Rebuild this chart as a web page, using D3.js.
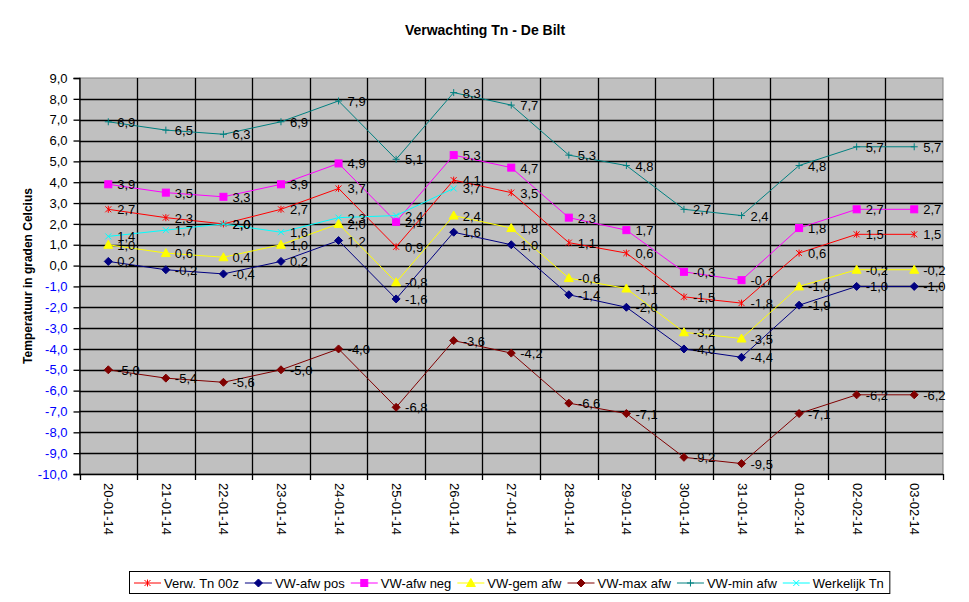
<!DOCTYPE html>
<html>
<head>
<meta charset="utf-8">
<script src="https://cdn.jsdelivr.net/npm/d3@7"></script>
<style>
  body { margin: 0; background: #fff; }
  svg { font-family: "Liberation Sans", Arial, sans-serif; }
</style>
</head>
<body>
<div id="chart"></div>
<script>
// data
const dates = ["20-01-14", "21-01-14", "22-01-14", "23-01-14", "24-01-14", "25-01-14", "26-01-14",
  "27-01-14", "28-01-14", "29-01-14", "30-01-14", "31-01-14", "01-02-14", "02-02-14", "03-02-14"];
const verwTn = [2.7, 2.3, 2.0, 2.7, 3.7, 0.9, 4.1, 3.5, 1.1, 0.6, -1.5, -1.8, 0.6, 1.5, 1.5];
const afwPos = [0.2, -0.2, -0.4, 0.2, 1.2, -1.6, 1.6, 1.0, -1.4, -2.0, -4.0, -4.4, -1.9, -1.0, -1.0];
const afwNeg = [3.9, 3.5, 3.3, 3.9, 4.9, 2.1, 5.3, 4.7, 2.3, 1.7, -0.3, -0.7, 1.8, 2.7, 2.7];
const gemAfw = [1.0, 0.6, 0.4, 1.0, 2.0, -0.8, 2.4, 1.8, -0.6, -1.1, -3.2, -3.5, -1.0, -0.2, -0.2];
const maxAfw = [-5.0, -5.4, -5.6, -5.0, -4.0, -6.8, -3.6, -4.2, -6.6, -7.1, -9.2, -9.5, -7.1, -6.2, -6.2];
const minAfw = [6.9, 6.5, 6.3, 6.9, 7.9, 5.1, 8.3, 7.7, 5.3, 4.8, 2.7, 2.4, 4.8, 5.7, 5.7];
const werkelijkTn = [1.4, 1.7, 2.0, 1.6, 2.3, 2.4, 3.7, null, null, null, null, null, null, null, null];
const yTicks = d3.range(-10, 10, 1);

const series = [
  { name: "Verw. Tn 00z", values: verwTn, color: "#FF0000", marker: "star" },
  { name: "VW-afw pos", values: afwPos, color: "#000080", marker: "diamond" },
  { name: "VW-afw neg", values: afwNeg, color: "#FF00FF", marker: "square" },
  { name: "VW-gem afw", values: gemAfw, color: "#FFFF00", marker: "triangle" },
  { name: "VW-max afw", values: maxAfw, color: "#800000", marker: "diamond" },
  { name: "VW-min afw", values: minAfw, color: "#008080", marker: "plus" },
  { name: "Werkelijk Tn", values: werkelijkTn, color: "#00FFFF", marker: "cross" }
];

const W = 969, H = 602;
const PLOT = { left: 79.5, right: 943, top: 78, bottom: 474 };
// komma als decimaalteken, gewoon streepje als minteken
const fmt = v => d3.format(".1f")(v).replace(".", ",").replace("\u2212", "-");

const svg = d3.select("#chart").append("svg")
  .attr("width", W)
  .attr("height", H);

const x = d3.scaleBand()
  .domain(dates)
  .range([PLOT.left, PLOT.right]);

const y = d3.scaleLinear()
  .domain([-10, 9])
  .range([PLOT.bottom, PLOT.top]);

// markers
function drawMarker(g, type, color) {
  if (type === "diamond") {
    g.append("path").attr("d", "M0,-4L4,0L0,4L-4,0Z").attr("fill", color).attr("stroke", color);
  } else if (type === "square") {
    g.append("rect").attr("x", -3.5).attr("y", -3.5).attr("width", 7).attr("height", 7)
      .attr("fill", color).attr("stroke", color);
  } else if (type === "triangle") {
    g.append("path").attr("d", "M0,-4.5L4.5,3.5L-4.5,3.5Z").attr("fill", color).attr("stroke", color);
  } else if (type === "plus") {
    g.append("path").attr("d", "M-3.5,0H3.5M0,-3.5V3.5").attr("stroke", color).attr("fill", "none");
  } else if (type === "cross") {
    g.append("path").attr("d", "M-3,-3L3,3M-3,3L3,-3").attr("stroke", color).attr("fill", "none");
  } else if (type === "star") {
    g.append("path").attr("d", "M-3,-3L3,3M-3,3L3,-3M0,-3.5V3.5").attr("stroke", color).attr("fill", "none");
  }
}

// Titel
svg.append("text")
  .attr("x", 485)
  .attr("y", 35)
  .attr("text-anchor", "middle")
  .attr("font-size", "14px")
  .attr("font-weight", "bold")
  .text("Verwachting Tn - De Bilt");

// plot area
svg.append("rect")
  .attr("x", PLOT.left)
  .attr("y", PLOT.top)
  .attr("width", PLOT.right - PLOT.left)
  .attr("height", PLOT.bottom - PLOT.top)
  .attr("fill", "#C0C0C0")
  .attr("stroke", "#808080")
  .attr("stroke-width", 1);

// gridlines
svg.append("g")
  .selectAll("line")
  .data(yTicks.filter(t => t > -10 && t < 9))
  .join("line")
  .attr("x1", PLOT.left)
  .attr("x2", PLOT.right)
  .attr("y1", d => Math.round(y(d)) + 0.5)
  .attr("y2", d => Math.round(y(d)) + 0.5)
  .attr("stroke", "#000")
  .attr("stroke-width", 1.3);

svg.append("g")
  .selectAll("line")
  .data(dates.slice(1))
  .join("line")
  .attr("x1", d => Math.round(x(d)) + 0.5)
  .attr("x2", d => Math.round(x(d)) + 0.5)
  .attr("y1", PLOT.top)
  .attr("y2", PLOT.bottom)
  .attr("stroke", "#000")
  .attr("stroke-width", 1.3);

// Y as
const yAxis = svg.append("g")
  .attr("transform", `translate(${PLOT.left},0)`)
  .call(d3.axisLeft(y).tickValues(yTicks).tickSize(6).tickPadding(6).tickFormat(fmt));
yAxis.select(".domain").attr("stroke", "#000").attr("stroke-width", 1.3);
yAxis.selectAll(".tick line").attr("stroke", "#000").attr("stroke-width", 1.3);
yAxis.selectAll(".tick text")
  .attr("font-size", "13px")
  .attr("font-family", "Liberation Sans, Arial, sans-serif")
  .attr("fill", d => d < 0 ? "#0000FF" : "#000");

svg.append("text")
  .attr("transform", "rotate(-90)")
  .attr("x", -(PLOT.top + PLOT.bottom) / 2)
  .attr("y", 32)
  .attr("text-anchor", "middle")
  .attr("font-size", "12px")
  .attr("font-weight", "bold")
  .text("Temperatuur in graden Celcius");

// X as
svg.append("line")
  .attr("x1", PLOT.left)
  .attr("x2", PLOT.right)
  .attr("y1", PLOT.bottom + 0.5)
  .attr("y2", PLOT.bottom + 0.5)
  .attr("stroke", "#000")
  .attr("stroke-width", 1.3);

svg.append("g")
  .selectAll("line")
  .data(dates.concat(["end"]))
  .join("line")
  .attr("x1", (d, i) => Math.round(i < dates.length ? x(d) : PLOT.right) + 0.5)
  .attr("x2", (d, i) => Math.round(i < dates.length ? x(d) : PLOT.right) + 0.5)
  .attr("y1", PLOT.bottom)
  .attr("y2", PLOT.bottom + 6)
  .attr("stroke", "#000")
  .attr("stroke-width", 1.3);

svg.append("g")
  .selectAll("text")
  .data(dates)
  .join("text")
  .attr("transform", d => `translate(${x(d) + x.bandwidth() / 2 - 4},${PLOT.bottom + 9}) rotate(90)`)
  .attr("font-size", "13px")
  .attr("text-anchor", "start")
  .text(d => d);

// lijnen
const cx = (d, i) => x(dates[i]) + x.bandwidth() / 2;
const line = d3.line()
  .defined(d => d !== null)
  .x(cx)
  .y(d => y(d));

series.forEach(s => {
  svg.append("path")
    .datum(s.values)
    .attr("fill", "none")
    .attr("stroke", s.color)
    .attr("stroke-width", 1)
    .attr("d", line);

  s.values.forEach((v, i) => {
    if (v === null) return;
    const g = svg.append("g").attr("transform", `translate(${cx(v, i)},${y(v)})`);
    drawMarker(g, s.marker, s.color);
  });
});

// labels
series.forEach(s => {
  s.values.forEach((v, i) => {
    if (v === null) return;
    svg.append("text")
      .attr("x", cx(v, i) + 9)
      .attr("y", y(v) + 5)
      .attr("font-size", "13px")
      .attr("fill", "#000")
      .text(fmt(v));
  });
});

// legenda
const legend = svg.append("g");
const legendBox = legend.append("rect")
  .attr("fill", "#fff")
  .attr("stroke", "#000")
  .attr("stroke-width", 1);

let lx = 134;
const ly = 583;
series.forEach(s => {
  legend.append("line")
    .attr("x1", lx).attr("x2", lx + 27)
    .attr("y1", ly).attr("y2", ly)
    .attr("stroke", s.color);
  drawMarker(legend.append("g").attr("transform", `translate(${lx + 13.5},${ly})`), s.marker, s.color);
  const t = legend.append("text")
    .attr("x", lx + 30)
    .attr("y", ly + 5)
    .attr("font-size", "13px")
    .text(s.name);
  lx += 30 + t.node().getComputedTextLength() + 6;
});

legendBox
  .attr("x", 129.5)
  .attr("y", 571.5)
  .attr("width", lx - 129.5)
  .attr("height", 22);
</script>
</body>
</html>
